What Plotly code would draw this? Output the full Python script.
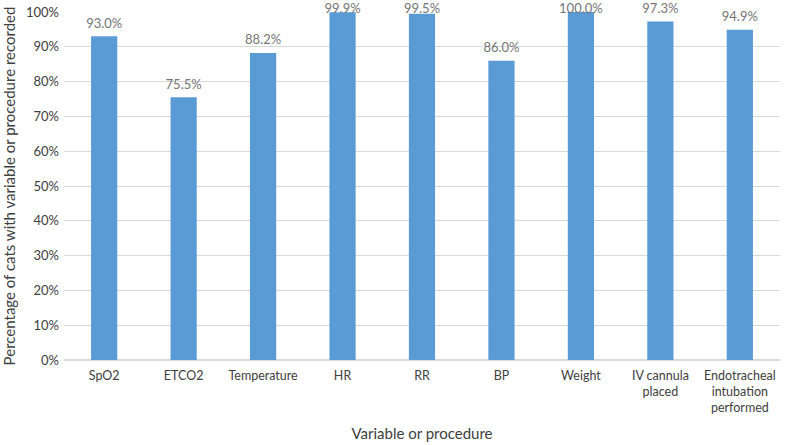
import plotly.graph_objects as go

categories = ["SpO2", "ETCO2", "Temperature", "HR", "RR", "BP", "Weight",
              "IV cannula<br>placed", "Endotracheal<br>intubation<br>performed"]
values = [0.930, 0.755, 0.882, 0.999, 0.995, 0.860, 1.000, 0.973, 0.949]
labels = ["93.0%", "75.5%", "88.2%", "99.9%", "99.5%", "86.0%", "100.0%", "97.3%", "94.9%"]
tick_vals = [0, 0.1, 0.2, 0.3, 0.4, 0.5, 0.6, 0.7, 0.8, 0.9, 1.0]
tick_text = ["0%", "10%", "20%", "30%", "40%", "50%", "60%", "70%", "80%", "90%", "100%"]

FONT = "Lato, 'Open Sans', sans-serif"

label_y = [min(v, 0.972) for v in values]

fig = go.Figure()
fig.add_trace(go.Bar(x=categories, y=values, marker_color="#5B9BD5",
                     marker_line_width=0, hoverinfo="skip"))
fig.add_trace(go.Scatter(x=categories, y=label_y, mode="markers+text", text=labels,
                         marker=dict(size=7, opacity=0),
                         textposition="top center", cliponaxis=False,
                         textfont=dict(family=FONT, size=13, color="#767676"),
                         hoverinfo="skip"))

fig.update_layout(
    width=785, height=445,
    margin=dict(l=64, r=5, t=12, b=85, autoexpand=False),
    paper_bgcolor="white", plot_bgcolor="white",
    showlegend=False, bargap=0.67,
    font=dict(family=FONT, size=13, color="#404040"),
    xaxis=dict(title=dict(text="Variable or procedure", font=dict(size=15, color="#404040"), standoff=14),
               automargin=False, ticklabelstandoff=6,
               showgrid=False, showline=False, ticks="", tickfont=dict(size=12.5, color="#404040")),
    yaxis=dict(title=dict(text="Percentage of cats with variable or procedure recorded",
                          font=dict(size=15, color="#404040"), standoff=18),
               automargin=False, ticklabelstandoff=4,
               range=[0, 1.0], tickvals=tick_vals, ticktext=tick_text,
               showgrid=True, gridcolor="#D9D9D9", gridwidth=1, zeroline=True,
               zerolinecolor="#D9D9D9", showline=False, ticks="",
               tickfont=dict(size=13, color="#404040")),
)

fig.write_html("out.html", config={"displayModeBar": False},
               post_script="document.body.style.margin='0';")
